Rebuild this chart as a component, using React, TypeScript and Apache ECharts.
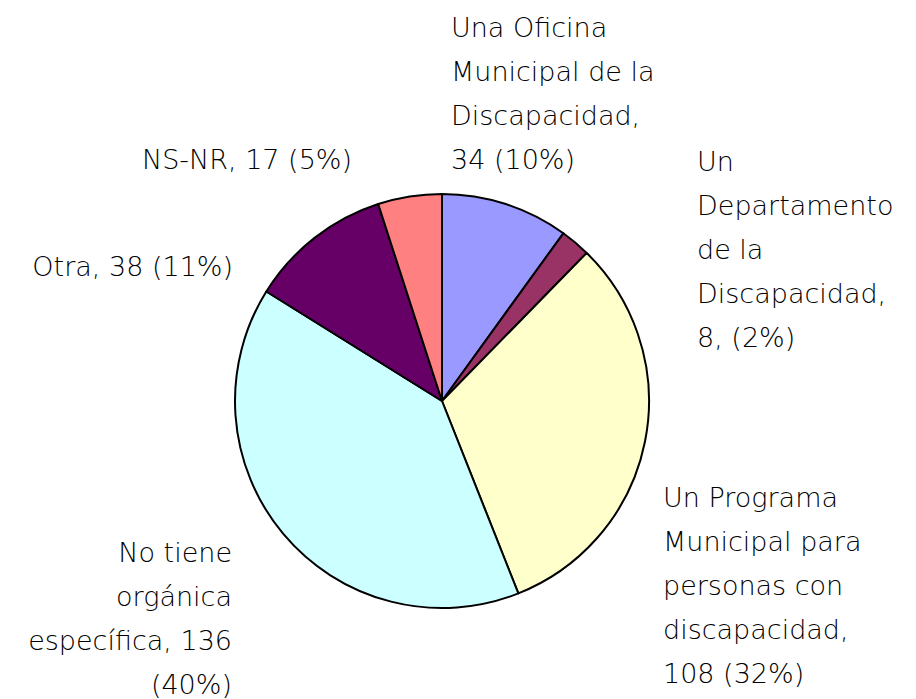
import React, { useEffect, useRef } from "react";
import * as echarts from "echarts";

const categories = [
  "Una Oficina Municipal de la Discapacidad",
  "Un Departamento de la Discapacidad",
  "Un Programa Municipal para personas con discapacidad",
  "No tiene orgánica específica",
  "Otra",
  "NS-NR",
];
const values = [34, 8, 108, 136, 38, 17];
const colors = ["#9999FF", "#993366", "#FFFFCC", "#CCFFFF", "#660066", "#FF8080"];
const labelTexts = [
  "Una Oficina\nMunicipal de la\nDiscapacidad,\n34 (10%)",
  "Un\nDepartamento\nde la\nDiscapacidad,\n8, (2%)",
  "Un Programa\nMunicipal para\npersonas con\ndiscapacidad,\n108 (32%)",
  "No tiene\norgánica\nespecífica, 136\n(40%)",
  "Otra, 38 (11%)",
  "NS-NR, 17 (5%)",
];
// label anchor layout: [x, y(top), align]
const labelLayouts: [number, number, string][] = [
  [451, 5, "left"],
  [697, 139, "left"],
  [663, 475, "left"],
  [232, 530, "right"],
  [233, 244, "right"],
  [352, 137, "right"],
];

export default function App() {
  const ref = useRef<HTMLDivElement>(null);
  useEffect(() => {
    if (!ref.current) return;
    const chart = echarts.init(ref.current, undefined, { renderer: "svg" });
    chart.setOption({
      animation: false,
      backgroundColor: "#ffffff",
      series: [
        {
          type: "pie",
          center: [442, 401],
          radius: 207,
          startAngle: 90,
          clockwise: true,
          avoidLabelOverlap: false,
          data: categories.map((name, i) => ({
            name,
            value: values[i],
            itemStyle: { color: colors[i] },
          })),
          itemStyle: { borderColor: "#000", borderWidth: 2 },
          label: {
            show: true,
            position: "outside",
            formatter: (p: any) => labelTexts[p.dataIndex],
            color: "#000",
            fontFamily: "DejaVu Sans",
            fontWeight: 300,
            fontSize: 27,
            lineHeight: 44,
          },
          labelLine: { show: false },
          labelLayout: (p: any) => {
            const l = labelLayouts[p.dataIndex];
            return { x: l[0], y: l[1], align: l[2], verticalAlign: "top" };
          },
          emphasis: { disabled: true },
        },
      ],
    });
    return () => chart.dispose();
  }, []);
  return (
    <div
      ref={ref}
      style={{ position: "fixed", left: 0, top: 0, width: 916, height: 699 }}
    />
  );
}
